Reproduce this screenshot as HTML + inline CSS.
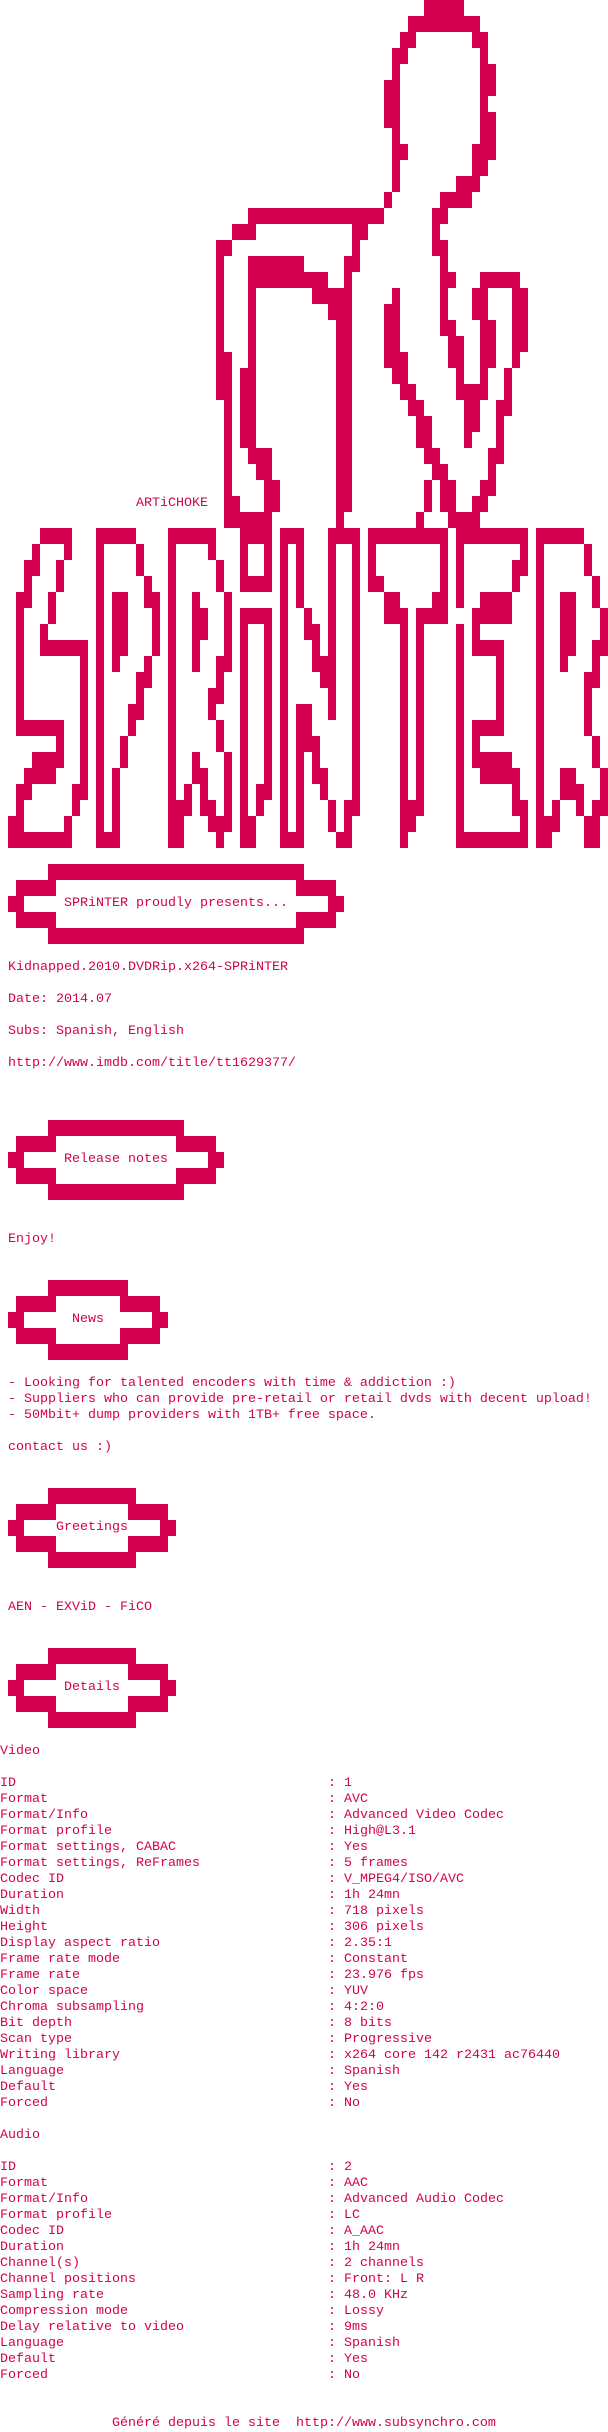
<!DOCTYPE html>
<html><head><meta charset="utf-8"><style>
html,body{margin:0;padding:0;background:#fff;}
body{width:608px;height:2432px;position:relative;overflow:hidden;}
svg{position:absolute;left:0;top:0;}
pre{position:absolute;margin:0;font-family:"Liberation Mono",monospace;font-size:13.33px;line-height:16px;color:#d4004f;white-space:pre;}
</style></head><body>
<svg width="608" height="2432" viewBox="0 0 76 152" preserveAspectRatio="none" shape-rendering="crispEdges">
<path fill="#d4004f" d="
M53,0H58v1H53z
M51,1H60v1H51z
M50,2H52v1H50z M59,2H61v1H59z
M49,3H51v1H49z M60,3H61v1H60z
M49,4H50v1H49z M60,4H62v1H60z
M48,5H50v1H48z M60,5H62v1H60z
M48,6H50v1H48z M60,6H61v1H60z
M48,7H50v1H48z M60,7H62v1H60z
M49,8H50v1H49z M60,8H62v1H60z
M49,9H51v1H49z M59,9H62v1H59z
M49,10H50v1H49z M59,10H61v1H59z
M49,11H50v1H49z M57,11H60v1H57z
M48,12H49v1H48z M55,12H59v1H55z
M31,13H48v1H31z M54,13H56v1H54z
M29,14H32v1H29z M44,14H46v1H44z M54,14H55v1H54z
M27,15H29v1H27z M44,15H45v1H44z M54,15H56v1H54z
M27,16H28v1H27z M31,16H38v1H31z M43,16H45v1H43z M55,16H56v1H55z
M27,17H28v1H27z M31,17H41v1H31z M43,17H44v1H43z M55,17H57v1H55z M60,17H65v1H60z
M27,18H28v1H27z M31,18H32v1H31z M39,18H44v1H39z M49,18H50v1H49z M55,18H56v1H55z M59,18H61v1H59z M64,18H66v1H64z
M27,19H28v1H27z M31,19H32v1H31z M41,19H44v1H41z M48,19H50v1H48z M55,19H56v1H55z M59,19H61v1H59z M64,19H66v1H64z
M27,20H28v1H27z M31,20H32v1H31z M42,20H44v1H42z M48,20H50v1H48z M55,20H57v1H55z M60,20H62v1H60z M64,20H66v1H64z
M27,21H28v1H27z M31,21H32v1H31z M42,21H44v1H42z M48,21H50v1H48z M56,21H58v1H56z M60,21H62v1H60z M64,21H66v1H64z
M27,22H29v1H27z M31,22H32v1H31z M42,22H44v1H42z M48,22H51v1H48z M56,22H58v1H56z M60,22H62v1H60z M64,22H65v1H64z
M27,23H29v1H27z M30,23H32v1H30z M42,23H44v1H42z M49,23H51v1H49z M57,23H58v1H57z M60,23H61v1H60z M63,23H64v1H63z
M27,24H29v1H27z M30,24H32v1H30z M42,24H44v1H42z M50,24H52v1H50z M57,24H61v1H57z M63,24H64v1H63z
M28,25H29v1H28z M30,25H32v1H30z M42,25H44v1H42z M51,25H53v1H51z M58,25H60v1H58z M62,25H64v1H62z
M28,26H29v1H28z M30,26H32v1H30z M42,26H44v1H42z M52,26H54v1H52z M58,26H60v1H58z M62,26H63v1H62z
M28,27H29v1H28z M30,27H32v1H30z M42,27H44v1H42z M52,27H54v1H52z M58,27H59v1H58z M62,27H63v1H62z
M28,28H29v1H28z M31,28H34v1H31z M42,28H44v1H42z M53,28H55v1H53z M61,28H63v1H61z
M28,29H29v1H28z M32,29H34v1H32z M42,29H44v1H42z M54,29H56v1H54z M61,29H62v1H61z
M28,30H29v1H28z M33,30H35v1H33z M42,30H44v1H42z M53,30H54v1H53z M55,30H57v1H55z M60,30H62v1H60z
M28,31H30v1H28z M33,31H35v1H33z M42,31H44v1H42z M53,31H54v1H53z M55,31H57v1H55z M59,31H61v1H59z
M28,32H34v1H28z M42,32H43v1H42z M52,32H53v1H52z M56,32H60v1H56z
M5,33H9v1H5z M12,33H17v1H12z M21,33H27v1H21z M30,33H34v1H30z M35,33H38v1H35z M41,33H45v1H41z M46,33H56v1H46z M57,33H66v1H57z M67,33H73v1H67z
M4,34H5v1H4z M8,34H9v1H8z M12,34H13v1H12z M17,34H18v1H17z M21,34H22v1H21z M26,34H27v1H26z M30,34H31v1H30z M33,34H34v1H33z M35,34H36v1H35z M37,34H38v1H37z M41,34H42v1H41z M44,34H45v1H44z M46,34H47v1H46z M55,34H56v1H55z M57,34H58v1H57z M65,34H66v1H65z M67,34H68v1H67z M73,34H74v1H73z
M3,35H5v1H3z M7,35H8v1H7z M12,35H13v1H12z M17,35H18v1H17z M21,35H22v1H21z M27,35H28v1H27z M30,35H31v1H30z M33,35H34v1H33z M35,35H36v1H35z M37,35H38v1H37z M41,35H42v1H41z M44,35H45v1H44z M46,35H47v1H46z M55,35H56v1H55z M57,35H58v1H57z M64,35H66v1H64z M67,35H68v1H67z M73,35H74v1H73z
M3,36H4v1H3z M7,36H8v1H7z M12,36H13v1H12z M18,36H19v1H18z M21,36H22v1H21z M27,36H28v1H27z M30,36H34v1H30z M35,36H36v1H35z M37,36H38v1H37z M41,36H42v1H41z M44,36H45v1H44z M46,36H48v1H46z M55,36H56v1H55z M57,36H58v1H57z M64,36H65v1H64z M67,36H68v1H67z M74,36H75v1H74z
M2,37H4v1H2z M6,37H7v1H6z M12,37H13v1H12z M14,37H16v1H14z M18,37H20v1H18z M21,37H22v1H21z M24,37H25v1H24z M28,37H29v1H28z M35,37H36v1H35z M37,37H38v1H37z M41,37H42v1H41z M44,37H45v1H44z M48,37H50v1H48z M54,37H56v1H54z M57,37H58v1H57z M60,37H64v1H60z M67,37H68v1H67z M70,37H72v1H70z M74,37H75v1H74z
M2,38H3v1H2z M6,38H7v1H6z M12,38H13v1H12z M14,38H16v1H14z M19,38H20v1H19z M21,38H22v1H21z M24,38H26v1H24z M28,38H29v1H28z M30,38H34v1H30z M35,38H36v1H35z M38,38H39v1H38z M41,38H42v1H41z M44,38H45v1H44z M48,38H51v1H48z M52,38H56v1H52z M59,38H64v1H59z M67,38H68v1H67z M70,38H72v1H70z M75,38H76v1H75z
M2,39H3v1H2z M5,39H6v1H5z M12,39H13v1H12z M14,39H16v1H14z M19,39H20v1H19z M21,39H22v1H21z M24,39H26v1H24z M28,39H29v1H28z M30,39H31v1H30z M33,39H34v1H33z M35,39H36v1H35z M38,39H40v1H38z M41,39H42v1H41z M44,39H45v1H44z M50,39H51v1H50z M52,39H53v1H52z M57,39H58v1H57z M59,39H60v1H59z M67,39H68v1H67z M70,39H72v1H70z M75,39H76v1H75z
M2,40H3v1H2z M5,40H11v1H5z M12,40H13v1H12z M14,40H16v1H14z M19,40H20v1H19z M21,40H22v1H21z M24,40H25v1H24z M28,40H29v1H28z M30,40H31v1H30z M33,40H34v1H33z M35,40H36v1H35z M39,40H40v1H39z M41,40H42v1H41z M44,40H45v1H44z M50,40H51v1H50z M52,40H53v1H52z M57,40H58v1H57z M59,40H63v1H59z M67,40H68v1H67z M70,40H72v1H70z M74,40H76v1H74z
M2,41H3v1H2z M10,41H11v1H10z M12,41H13v1H12z M14,41H15v1H14z M18,41H19v1H18z M21,41H22v1H21z M24,41H25v1H24z M27,41H29v1H27z M30,41H31v1H30z M33,41H34v1H33z M35,41H36v1H35z M39,41H42v1H39z M44,41H45v1H44z M50,41H51v1H50z M52,41H53v1H52z M57,41H58v1H57z M62,41H63v1H62z M67,41H68v1H67z M70,41H71v1H70z M74,41H75v1H74z
M2,42H3v1H2z M10,42H11v1H10z M12,42H13v1H12z M17,42H19v1H17z M21,42H22v1H21z M27,42H28v1H27z M30,42H31v1H30z M33,42H34v1H33z M35,42H36v1H35z M40,42H42v1H40z M44,42H45v1H44z M50,42H51v1H50z M52,42H53v1H52z M57,42H58v1H57z M62,42H63v1H62z M67,42H68v1H67z M73,42H75v1H73z
M2,43H3v1H2z M10,43H11v1H10z M12,43H13v1H12z M17,43H18v1H17z M21,43H22v1H21z M26,43H28v1H26z M30,43H31v1H30z M33,43H34v1H33z M35,43H36v1H35z M41,43H42v1H41z M44,43H45v1H44z M50,43H51v1H50z M52,43H53v1H52z M57,43H58v1H57z M62,43H63v1H62z M67,43H68v1H67z M73,43H74v1H73z
M2,44H3v1H2z M10,44H11v1H10z M12,44H13v1H12z M16,44H18v1H16z M21,44H22v1H21z M26,44H27v1H26z M30,44H31v1H30z M33,44H34v1H33z M35,44H36v1H35z M37,44H39v1H37z M41,44H42v1H41z M44,44H45v1H44z M50,44H51v1H50z M52,44H53v1H52z M57,44H58v1H57z M62,44H63v1H62z M67,44H68v1H67z M73,44H74v1H73z
M2,45H8v1H2z M10,45H11v1H10z M12,45H13v1H12z M16,45H17v1H16z M21,45H22v1H21z M27,45H28v1H27z M30,45H31v1H30z M33,45H34v1H33z M35,45H36v1H35z M37,45H39v1H37z M44,45H45v1H44z M50,45H51v1H50z M52,45H53v1H52z M57,45H58v1H57z M59,45H63v1H59z M67,45H68v1H67z M73,45H74v1H73z
M7,46H8v1H7z M10,46H11v1H10z M12,46H13v1H12z M15,46H16v1H15z M21,46H22v1H21z M27,46H28v1H27z M30,46H31v1H30z M33,46H34v1H33z M35,46H36v1H35z M37,46H40v1H37z M44,46H45v1H44z M50,46H51v1H50z M52,46H53v1H52z M57,46H58v1H57z M59,46H60v1H59z M67,46H68v1H67z M74,46H75v1H74z
M4,47H8v1H4z M10,47H11v1H10z M12,47H13v1H12z M15,47H16v1H15z M21,47H22v1H21z M24,47H25v1H24z M28,47H29v1H28z M30,47H31v1H30z M33,47H34v1H33z M35,47H36v1H35z M37,47H38v1H37z M39,47H40v1H39z M44,47H45v1H44z M50,47H51v1H50z M52,47H53v1H52z M57,47H58v1H57z M59,47H64v1H59z M67,47H68v1H67z M74,47H75v1H74z
M3,48H7v1H3z M10,48H11v1H10z M12,48H13v1H12z M14,48H15v1H14z M21,48H22v1H21z M24,48H26v1H24z M28,48H29v1H28z M30,48H31v1H30z M33,48H34v1H33z M35,48H36v1H35z M37,48H38v1H37z M39,48H41v1H39z M44,48H45v1H44z M50,48H51v1H50z M52,48H53v1H52z M57,48H58v1H57z M60,48H65v1H60z M67,48H68v1H67z M70,48H72v1H70z M75,48H76v1H75z
M2,49H4v1H2z M9,49H11v1H9z M12,49H13v1H12z M14,49H15v1H14z M21,49H22v1H21z M23,49H24v1H23z M25,49H26v1H25z M28,49H29v1H28z M30,49H31v1H30z M32,49H34v1H32z M35,49H36v1H35z M37,49H38v1H37z M40,49H41v1H40z M44,49H45v1H44z M50,49H51v1H50z M52,49H53v1H52z M57,49H58v1H57z M64,49H65v1H64z M67,49H68v1H67z M70,49H73v1H70z M75,49H76v1H75z
M2,50H3v1H2z M9,50H10v1H9z M12,50H13v1H12z M14,50H15v1H14z M21,50H24v1H21z M25,50H27v1H25z M28,50H29v1H28z M30,50H31v1H30z M32,50H33v1H32z M35,50H36v1H35z M37,50H38v1H37z M41,50H42v1H41z M43,50H45v1H43z M50,50H53v1H50z M57,50H58v1H57z M64,50H66v1H64z M67,50H68v1H67z M69,50H70v1H69z M72,50H73v1H72z M74,50H76v1H74z
M1,51H3v1H1z M8,51H9v1H8z M12,51H13v1H12z M14,51H15v1H14z M21,51H23v1H21z M26,51H29v1H26z M30,51H32v1H30z M35,51H36v1H35z M37,51H38v1H37z M41,51H42v1H41z M43,51H44v1H43z M50,51H52v1H50z M57,51H58v1H57z M65,51H66v1H65z M67,51H70v1H67z M73,51H75v1H73z
M1,52H9v1H1z M12,52H15v1H12z M21,52H23v1H21z M27,52H28v1H27z M30,52H32v1H30z M35,52H38v1H35z M42,52H44v1H42z M50,52H51v1H50z M57,52H66v1H57z M67,52H69v1H67z M73,52H75v1H73z
M6,54H38v1H6z M2,55H7v1H2z M37,55H42v1H37z M1,56H3v1H1z M41,56H43v1H41z M2,57H7v1H2z M37,57H42v1H37z M6,58H38v1H6z
M6,70H23v1H6z M2,71H7v1H2z M22,71H27v1H22z M1,72H3v1H1z M26,72H28v1H26z M2,73H7v1H2z M22,73H27v1H22z M6,74H23v1H6z
M6,80H16v1H6z M2,81H7v1H2z M15,81H20v1H15z M1,82H3v1H1z M19,82H21v1H19z M2,83H7v1H2z M15,83H20v1H15z M6,84H16v1H6z
M6,93H17v1H6z M2,94H7v1H2z M16,94H21v1H16z M1,95H3v1H1z M20,95H22v1H20z M2,96H7v1H2z M16,96H21v1H16z M6,97H17v1H6z
M6,103H17v1H6z M2,104H7v1H2z M16,104H21v1H16z M1,105H3v1H1z M20,105H22v1H20z M2,106H7v1H2z M16,106H21v1H16z M6,107H17v1H6z
"/>
</svg>
<pre style="left:136px;top:496px">ARTiCHOKE</pre>
<pre style="left:64px;top:896px">SPRiNTER proudly presents...</pre>
<pre style="left:8px;top:960px">Kidnapped.2010.DVDRip.x264-SPRiNTER

Date: 2014.07

Subs: Spanish, English

http://www.imdb.com/title/tt1629377/</pre>
<pre style="left:64px;top:1152px">Release notes</pre>
<pre style="left:8px;top:1232px">Enjoy!</pre>
<pre style="left:72px;top:1312px">News</pre>
<pre style="left:8px;top:1376px">- Looking for talented encoders with time &amp; addiction :)
- Suppliers who can provide pre-retail or retail dvds with decent upload!
- 50Mbit+ dump providers with 1TB+ free space.

contact us :)</pre>
<pre style="left:56px;top:1520px">Greetings</pre>
<pre style="left:8px;top:1600px">AEN - EXViD - FiCO</pre>
<pre style="left:64px;top:1680px">Details</pre>
<pre style="left:0;top:1744px">Video

ID
Format
Format/Info
Format profile
Format settings, CABAC
Format settings, ReFrames
Codec ID
Duration
Width
Height
Display aspect ratio
Frame rate mode
Frame rate
Color space
Chroma subsampling
Bit depth
Scan type
Writing library
Language
Default
Forced

Audio

ID
Format
Format/Info
Format profile
Codec ID
Duration
Channel(s)
Channel positions
Sampling rate
Compression mode
Delay relative to video
Language
Default
Forced</pre>
<pre style="left:328px;top:1776px">: 1
: AVC
: Advanced Video Codec
: High@L3.1
: Yes
: 5 frames
: V_MPEG4/ISO/AVC
: 1h 24mn
: 718 pixels
: 306 pixels
: 2.35:1
: Constant
: 23.976 fps
: YUV
: 4:2:0
: 8 bits
: Progressive
: x264 core 142 r2431 ac76440
: Spanish
: Yes
: No</pre>
<pre style="left:328px;top:2160px">: 2
: AAC
: Advanced Audio Codec
: LC
: A_AAC
: 1h 24mn
: 2 channels
: Front: L R
: 48.0 KHz
: Lossy
: 9ms
: Spanish
: Yes
: No</pre>
<pre style="left:112px;top:2416px">Généré depuis le site  http://www.subsynchro.com</pre>
</body></html>
